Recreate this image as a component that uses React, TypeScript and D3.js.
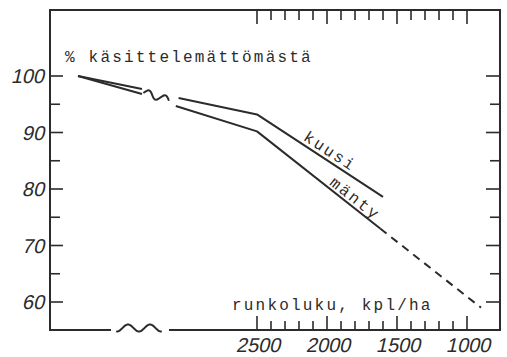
import React from "react";
import * as d3 from "d3";

const W = 507;
const H = 357;

// axis ticks
const yTickValues = [60, 70, 80, 90, 100];
const yMinorValues = [65, 75, 85, 95];
const xTickValues = [2500, 2000, 1500, 1000];
const xMinorValues = [2400, 2300, 2200, 2100, 1900, 1800, 1700, 1600, 1400, 1300, 1200, 1100];

// untreated stand, drawn left of the axis break (relative position 0..1)
const prePos = [0, 1];
const kuusiPre = [100, 97.7];
const mantyPre = [100, 96.8];

// after the break: stems per hectare vs. % of untreated
const kuusiStems = [3060, 2500, 1600];
const kuusiPct = [96.1, 93.2, 78.6];
const mantyStems = [3080, 2500, 1620];
const mantyPct = [94.7, 90.2, 73.0];
const mantyExtStems = [1620, 900];
const mantyExtPct = [73.0, 59.0];

const INK = "#2b2b2b";
const MONO = "'Liberation Mono', 'DejaVu Sans Mono', monospace";
const HAND = "'Liberation Sans', 'DejaVu Sans', sans-serif";

const frame = { left: 50, right: 500, top: 10, bottom: 330 };

const x = d3.scaleLinear().domain([2500, 1000]).range([257, 467]);
const xPre = d3.scaleLinear().domain([0, 1]).range([78, 142]);
const y = d3.scaleLinear().domain([60, 100]).range([302, 76]);

const line = d3.line<[number, number]>().x((d) => d[0]).y((d) => d[1]);

function pts(xs: number[], ys: number[], sx: (v: number) => number): [number, number][] {
  return xs.map((v, i) => [sx(v), y(ys[i])]);
}

// wavy break symbol between two points
function squiggle(x0: number, y0: number, x1: number, y1: number, cycles: number, amp: number, phase: number) {
  const n = 60;
  const dx = x1 - x0;
  const dy = y1 - y0;
  const len = Math.hypot(dx, dy);
  const nx = -dy / len;
  const ny = dx / len;
  const p: [number, number][] = [];
  for (let i = 0; i <= n; i++) {
    const t = i / n;
    const o = amp * Math.cos(2 * Math.PI * cycles * t + phase);
    p.push([x0 + dx * t + nx * o, y0 + dy * t + ny * o]);
  }
  return d3.line<[number, number]>().curve(d3.curveBasis)(p) || "";
}

function alongLabel(text: string, xs: number[], ys: number[], at: number, offset: number) {
  // find the segment containing `at`
  let i = 0;
  while (i < xs.length - 2 && !(at <= xs[i] && at >= xs[i + 1])) i++;
  const ax = x(xs[i]), ay = y(ys[i]), bx = x(xs[i + 1]), by = y(ys[i + 1]);
  const ang = Math.atan2(by - ay, bx - ax);
  const px = x(at);
  const t = (px - ax) / (bx - ax);
  const py = ay + (by - ay) * t;
  const ox = px + Math.sin(ang) * offset;
  const oy = py - Math.cos(ang) * offset;
  return (
    <text
      x={ox}
      y={oy}
      transform={`rotate(${(ang * 180) / Math.PI} ${ox} ${oy})`}
      fontFamily={MONO}
      fontSize={16}
      letterSpacing={2.2}
      fill={INK}
    >
      {text}
    </text>
  );
}

// slanted lettering for the tick numbers
function Slanted({ tx, ty, anchor, children }: { tx: number; ty: number; anchor: string; children: React.ReactNode }) {
  return (
    <g transform={`translate(${tx},${ty}) skewX(-13)`}>
      <text x={0} y={0} textAnchor={anchor} fontFamily={HAND} fontSize={20} fill={INK}>
        {children}
      </text>
    </g>
  );
}

export default function App() {
  const kuusiPrePts = pts(prePos, kuusiPre, xPre);
  const mantyPrePts = pts(prePos, mantyPre, xPre);
  const kuusiPts = pts(kuusiStems, kuusiPct, x);
  const mantyPts = pts(mantyStems, mantyPct, x);
  const mantyExtPts = pts(mantyExtStems, mantyExtPct, x);

  // break symbol on the curves, between the two pieces
  const bx0 = xPre(1) + 1;
  const by0 = (y(kuusiPre[1]) + y(mantyPre[1])) / 2 + 1;
  const bx1 = x(kuusiStems[0]) - 10;
  const by1 = (y(kuusiPct[0]) + y(mantyPct[0])) / 2 - 2;

  // break symbol on the bottom axis
  const axisBreakL = 110;
  const axisBreakR = 170;

  return (
    <svg
      width={W}
      height={H}
      viewBox={`0 0 ${W} ${H}`}
      style={{ position: "absolute", left: 0, top: 0, background: "#fff" }}
    >
      <rect x={0} y={0} width={W} height={H} fill="#fff" />
      {/* frame */}
      <g stroke={INK} strokeWidth={2} fill="none" strokeLinecap="square">
        <line x1={frame.left} y1={frame.top} x2={frame.right} y2={frame.top} />
        <line x1={frame.left} y1={frame.top} x2={frame.left} y2={frame.bottom} />
        <line x1={frame.right} y1={frame.top} x2={frame.right} y2={frame.bottom} />
        <line x1={frame.left} y1={frame.bottom} x2={axisBreakL} y2={frame.bottom} />
        <line x1={axisBreakR} y1={frame.bottom} x2={frame.right} y2={frame.bottom} />
        <path
          d={squiggle(axisBreakL + 7, frame.bottom - 2, axisBreakR - 9, frame.bottom - 2, 2, 3.5, 0)}
          strokeLinecap="round"
        />
      </g>

      {/* y ticks, both sides */}
      <g stroke={INK} strokeWidth={1.6}>
        {yTickValues.map((v) => (
          <g key={`ym${v}`}>
            <line x1={frame.left} x2={frame.left + 13} y1={y(v)} y2={y(v)} />
            <line x1={frame.right - 14} x2={frame.right} y1={y(v)} y2={y(v)} />
          </g>
        ))}
        {yMinorValues.map((v) => (
          <g key={`yn${v}`}>
            <line x1={frame.left} x2={frame.left + 10} y1={y(v)} y2={y(v)} />
            <line x1={frame.right - 10} x2={frame.right} y1={y(v)} y2={y(v)} />
          </g>
        ))}
      </g>

      {/* x ticks, top and bottom */}
      <g stroke={INK} strokeWidth={1.6}>
        {xTickValues.map((v) => (
          <g key={`xm${v}`}>
            <line x1={x(v)} x2={x(v)} y1={frame.top} y2={frame.top + 14} />
            <line x1={x(v)} x2={x(v)} y1={frame.bottom} y2={frame.bottom - 14} />
          </g>
        ))}
        {xMinorValues.map((v) => (
          <g key={`xn${v}`}>
            <line x1={x(v)} x2={x(v)} y1={frame.top} y2={frame.top + 10} />
            <line x1={x(v)} x2={x(v)} y1={frame.bottom} y2={frame.bottom - 9} />
          </g>
        ))}
      </g>

      {/* tick labels */}
      {yTickValues.map((v) => (
        <Slanted key={`yl${v}`} tx={44} ty={y(v) + 7} anchor="end">
          {v}
        </Slanted>
      ))}
      {xTickValues.map((v) => (
        <Slanted key={`xl${v}`} tx={x(v) + 1} ty={352} anchor="middle">
          {v}
        </Slanted>
      ))}

      {/* axis titles */}
      <text x={65} y={62} fontFamily={MONO} fontSize={16} letterSpacing={2.2} fill={INK}>
        % käsittelemättömästä
      </text>
      <text x={232} y={310} fontFamily={MONO} fontSize={16} letterSpacing={2.2} fill={INK}>
        runkoluku, kpl/ha
      </text>

      {/* curves */}
      <g stroke={INK} strokeWidth={2} fill="none" strokeLinejoin="round">
        <path d={line(kuusiPrePts) || ""} />
        <path d={line(mantyPrePts) || ""} />
        <path d={line(kuusiPts) || ""} />
        <path d={line(mantyPts) || ""} />
        <path d={line(mantyExtPts) || ""} strokeDasharray="8 6" />
        <path d={squiggle(bx0 + 1, by0, bx1, by1, 1.5, 3.5, Math.PI / 2)} strokeLinecap="round" />
      </g>

      {/* curve labels */}
      {alongLabel("kuusi", kuusiStems, kuusiPct, 2190, 4)}
      {alongLabel("mänty", mantyStems, mantyPct, 2000, 3)}
    </svg>
  );
}
